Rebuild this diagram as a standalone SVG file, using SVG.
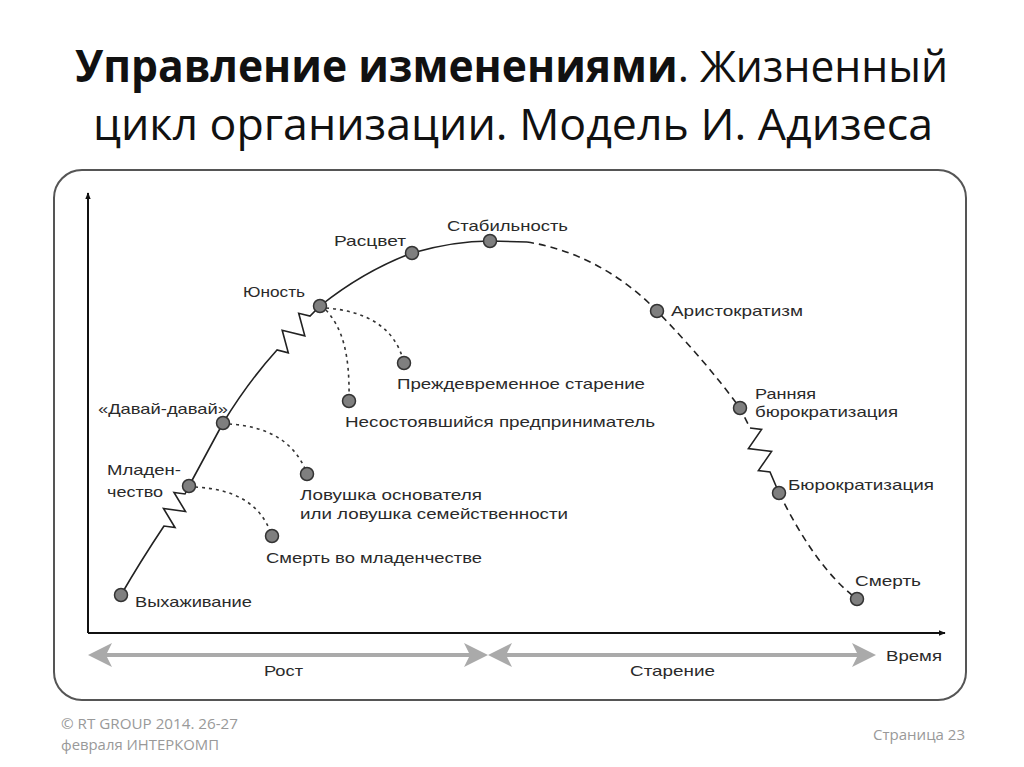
<svg xmlns="http://www.w3.org/2000/svg" width="1024" height="767" viewBox="0 0 1024 767">
<style>
.t{font-family:"Liberation Sans",Arial,sans-serif;font-size:15px;fill:#2a2a2a}
.ttl{font-family:"Open Sans","Noto Sans",sans-serif;font-size:44px;fill:#111}
.ft{font-family:"Open Sans","Noto Sans",sans-serif;font-size:15px;fill:#999}
.pt{fill:#7f7f7f;stroke:#333;stroke-width:1.5}
.solid{fill:none;stroke:#222;stroke-width:1.6}
.dash{fill:none;stroke:#222;stroke-width:1.6;stroke-dasharray:7 5}
.dot{fill:none;stroke:#333;stroke-width:1.6;stroke-dasharray:3 4}
.garrow{fill:#aaa}
</style>
<defs>
<marker id="ah" viewBox="0 0 10 10" refX="9" refY="5" markerWidth="7" markerHeight="7" orient="auto" markerUnits="userSpaceOnUse">
<path d="M0,1 L10,5 L0,9 Z" fill="#111"/>
</marker>
</defs>
<rect width="1024" height="767" fill="#fff"/>
<g id="title">
<text class="ttl" x="75" y="82" textLength="873" lengthAdjust="spacingAndGlyphs"><tspan font-weight="bold">Управление изменениями</tspan>. Жизненный</text>
<text class="ttl" x="93" y="140" textLength="840" lengthAdjust="spacingAndGlyphs">цикл организации. Модель И. Адизеса</text>
</g>
<rect id="frame" x="54" y="170" width="912" height="530" rx="28" fill="none" stroke="#555" stroke-width="2"/>
<g id="axes">
<line x1="88" y1="633" x2="88" y2="193" stroke="#111" stroke-width="2" marker-end="url(#ah)"/>
<line x1="88" y1="633" x2="945" y2="633" stroke="#111" stroke-width="2" marker-end="url(#ah)"/>
</g>
<g id="phase-arrows">
<rect class="garrow" x="100" y="653" width="376" height="4"/>
<polygon class="garrow" points="88,655 112,643 106,655 112,667"/>
<polygon class="garrow" points="488,655 464,643 470,655 464,667"/>
<rect class="garrow" x="500" y="653" width="364" height="4"/>
<polygon class="garrow" points="488,655 512,643 506,655 512,667"/>
<polygon class="garrow" points="876,655 852,643 858,655 852,667"/>
<text class="t" x="264" y="676" textLength="39" lengthAdjust="spacingAndGlyphs">Рост</text>
<text class="t" x="630" y="676" textLength="85" lengthAdjust="spacingAndGlyphs">Старение</text>
<text class="t" x="886" y="661" textLength="56" lengthAdjust="spacingAndGlyphs">Время</text>
</g>
<g id="connectors">
<path class="solid" d="M121,595 Q140,562 164,526 L175,527.5 L163.5,508.5 L185.5,511.5 L174,492.5 L185,494 L189,486"/>
<path class="solid" d="M189,486 L223,423 Q248,382 277,350 L288.3,352.8 L282.2,330.3 L304.8,335.8 L298.7,313.3 L310,316 L320,306"/>
<path class="solid" d="M320,306 C350,282 380,265 412,253 C440,245 465,241 490,241 L527,242"/>
<path class="dash" d="M527,242 C580,250 625,278 657,311 C690,345 718,378 740,408 L750,428"/>
<path class="solid" d="M750,428 L761.6,429.4 L748.4,448.6 L771.6,451.4 L758.4,470.6 L770,472 L779,493"/>
<path class="dash" d="M779,493 C800,535 825,575 857,599"/>
<path class="dot" d="M326,310 C342,328 350,352 349,401"/>
<path class="dot" d="M326,308 C365,311 395,326 404,363"/>
<path class="dot" d="M229,424 C265,426 295,440 307,474"/>
<path class="dot" d="M195,487 C230,489 260,500 272,536"/>
</g>
<g id="n-vyhazhivanie"><circle class="pt" cx="121" cy="595" r="6.5"/><text class="t" x="135" y="607" textLength="117" lengthAdjust="spacingAndGlyphs">Выхаживание</text></g>
<g id="n-mladenchestvo"><circle class="pt" cx="189" cy="486" r="6.5"/><text class="t" x="107" y="475" textLength="74" lengthAdjust="spacingAndGlyphs">Младен-</text><text class="t" x="107" y="497" textLength="56" lengthAdjust="spacingAndGlyphs">чество</text></g>
<g id="n-davai"><circle class="pt" cx="223" cy="423" r="6.5"/><text class="t" x="98" y="414" textLength="130" lengthAdjust="spacingAndGlyphs">«Давай-давай»</text></g>
<g id="n-yunost"><circle class="pt" cx="320" cy="306" r="6.5"/><text class="t" x="243" y="297" textLength="62" lengthAdjust="spacingAndGlyphs">Юность</text></g>
<g id="n-rascvet"><circle class="pt" cx="412" cy="253" r="6.5"/><text class="t" x="334" y="246" textLength="72" lengthAdjust="spacingAndGlyphs">Расцвет</text></g>
<g id="n-stabilnost"><circle class="pt" cx="490" cy="241" r="6.5"/><text class="t" x="447" y="231" textLength="121" lengthAdjust="spacingAndGlyphs">Стабильность</text></g>
<g id="n-prezhdevremennoe"><circle class="pt" cx="404" cy="363" r="6.5"/><text class="t" x="397" y="389" textLength="248" lengthAdjust="spacingAndGlyphs">Преждевременное старение</text></g>
<g id="n-nesostoyavshiysya"><circle class="pt" cx="349" cy="401" r="6.5"/><text class="t" x="345" y="427" textLength="310" lengthAdjust="spacingAndGlyphs">Несостоявшийся предприниматель</text></g>
<g id="n-lovushka"><circle class="pt" cx="307" cy="474" r="6.5"/><text class="t" x="300" y="500" textLength="182" lengthAdjust="spacingAndGlyphs">Ловушка основателя</text><text class="t" x="300" y="519" textLength="268" lengthAdjust="spacingAndGlyphs">или ловушка семейственности</text></g>
<g id="n-smert-mladenchestvo"><circle class="pt" cx="272" cy="536" r="6.5"/><text class="t" x="266" y="563" textLength="216" lengthAdjust="spacingAndGlyphs">Смерть во младенчестве</text></g>
<g id="n-aristokratizm"><circle class="pt" cx="657" cy="311" r="6.5"/><text class="t" x="671" y="316" textLength="132" lengthAdjust="spacingAndGlyphs">Аристократизм</text></g>
<g id="n-rannyaya"><circle class="pt" cx="740" cy="408" r="6.5"/><text class="t" x="755" y="399" textLength="61" lengthAdjust="spacingAndGlyphs">Ранняя</text><text class="t" x="755" y="417" textLength="143" lengthAdjust="spacingAndGlyphs">бюрократизация</text></g>
<g id="n-byurokratizaciya"><circle class="pt" cx="779" cy="493" r="6.5"/><text class="t" x="788" y="490" textLength="146" lengthAdjust="spacingAndGlyphs">Бюрократизация</text></g>
<g id="n-smert"><circle class="pt" cx="857" cy="599" r="6.5"/><text class="t" x="855" y="586" textLength="66" lengthAdjust="spacingAndGlyphs">Смерть</text></g>
<g id="footer">
<text class="ft" x="61" y="729" textLength="177" lengthAdjust="spacingAndGlyphs">© RT GROUP 2014. 26-27</text>
<text class="ft" x="61" y="750" textLength="158" lengthAdjust="spacingAndGlyphs">февраля ИНТЕРКОМП</text>
<text class="ft" x="873" y="740" textLength="92" lengthAdjust="spacingAndGlyphs">Страница 23</text>
</g>
</svg>
